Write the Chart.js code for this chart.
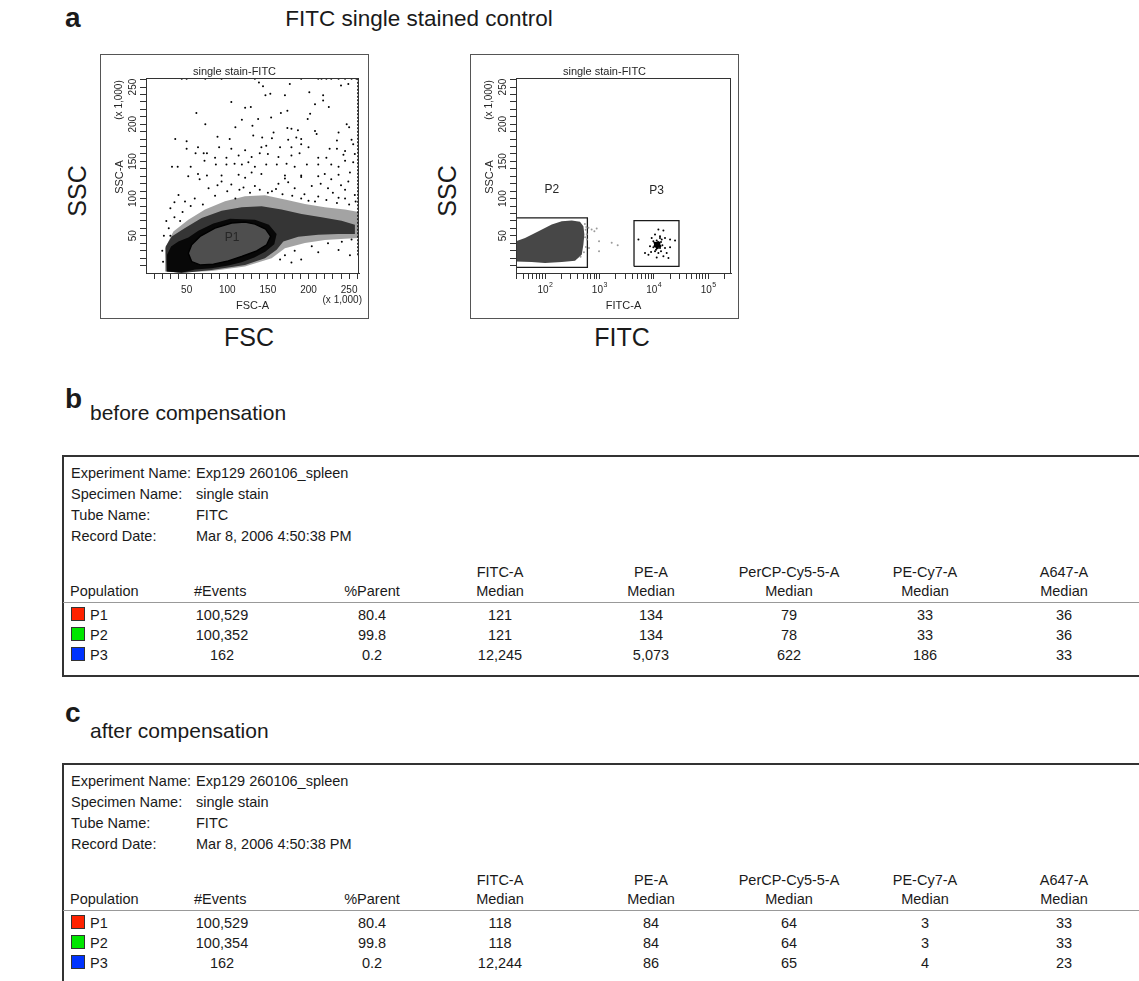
<!DOCTYPE html>
<html>
<head>
<meta charset="utf-8">
<script src="https://cdn.jsdelivr.net/npm/chart.js@4.4.1/dist/chart.umd.min.js"></script>
<style>
  body { margin: 0; width: 1139px; height: 981px; background: #fff; position: relative; overflow: hidden;
         font-family: "Liberation Sans", Arial, sans-serif; color: #1a1a1a; }
  .abs { position: absolute; white-space: nowrap; }
  .box { position: absolute; top: 54px; width: 267px; height: 263px; border: 1px solid #555; }
  .box canvas { display: block; }
  .tbl { position: absolute; left: 62px; width: 1100px; border: 2px solid #333; border-right: none; }
  .sep { position: absolute; left: 63px; width: 1076px; height: 1px; background: #999; }
  .sw { position: absolute; width: 12px; height: 12px; border: 1px solid #333; }
</style>
</head>
<body>
<div class="box" style="left:100px"><canvas id="fscPlot" width="267" height="263"></canvas></div>
<div class="box" style="left:470px"><canvas id="fitcPlot" width="267" height="263"></canvas></div>

<script>
// ---- scatter data (x 1,000 units for FSC/SSC) ----
const fscTicks = [10,20,30,40,50,60,70,80,90,100,110,120,130,140,150,160,170,180,190,200,210,220,230,240,250,260];
const sscTicks = fscTicks;
const fscLabels = [50, 100, 150, 200, 250];
const sscLabels = [50, 100, 150, 200, 250];
const fitcTicks = [30,40,50,60,70,80,90,100,200,300,400,500,600,700,800,900,1000,2000,3000,4000,5000,6000,7000,8000,9000,
                   10000,20000,30000,40000,50000,60000,70000,80000,90000,100000,200000];
const fitcDecades = [100, 1000, 10000, 100000];

// sparse events, FSC-A vs SSC-A
const fscDots = [
  [139,256],[144,251],[177,254],[249,254],[240,252],[201,243],[147,239],[153,241],[171,239],[218,239],
  [105,230],[218,232],[208,227],[122,222],[129,223],[225,223],[62,215],[166,215],[174,218],[202,214],
  [138,207],[118,206],[154,209],[199,207],[73,200],[131,198],[110,196],[174,195],[179,194],[187,192],
  [208,191],[247,200],[250,196],[237,189],[157,189],[36,180],[50,177],[88,183],[103,180],[132,185],
  [143,182],[155,181],[175,179],[185,182],[191,180],[210,187],[235,178],[253,179],[64,169],[50,167],
  [90,169],[105,167],[122,165],[142,169],[148,171],[165,169],[179,169],[191,173],[200,169],[226,167],
  [235,167],[245,164],[255,173],[61,161],[71,161],[75,161],[85,155],[99,155],[114,158],[130,156],
  [140,161],[150,160],[163,156],[179,158],[189,161],[212,155],[222,155],[243,159],[257,160],[32,143],
  [39,143],[55,143],[72,151],[86,146],[99,146],[109,147],[118,146],[126,149],[134,143],[148,146],
  [161,146],[173,147],[183,143],[198,146],[212,146],[228,146],[237,143],[245,151],[255,149],
  [52,130],[64,133],[75,131],[93,131],[114,132],[130,135],[142,133],[171,131],[191,131],[220,133],[237,132],[251,135],
  [66,126],[93,123],[122,128],[171,127],[191,129],[212,130],[228,126],[249,123],[40,105],[30,87],[48,96],
  [77,114],[105,119],[134,117],[163,120],[183,114],[204,117],[224,114],[245,112],[257,105],[237,101],[212,103],[191,100],
  [60,100],[70,92],[85,104],[100,110],[115,112],[128,108],[140,112],[155,110],[168,106],[180,104],[195,106],
  [208,96],[222,98],[235,94],[250,92],[258,96],[45,82],[55,90],[110,100],[150,108],[200,97],[230,108],[245,100],
  [88,118],[120,115],[160,113],[175,122],[215,120],[240,118],[35,95],[42,70],[30,50],
  [25,70],[28,60],[35,75],[22,50],[20,30],[21,15],
  [171,24],[183,30],[204,36],[224,40],[241,42],[253,45],[191,18],[165,18],[179,14],[212,28],[237,31],[251,24]
];
const fscTopEdge = [[44,261],[50,261],[73,261],[93,261],[134,261],[191,261],[212,261],[216,261],[222,261],
                    [228,261],[237,261],[245,261],[253,261],[259,261]];
const fscRightEdge = [[261.3,24],[261.3,262]];

// density regions around the P1 population
const fscMedium = [[23.4,1.9],[23.4,33.4],[33.7,55.9],[52.1,71.7],[72.6,85.2],[97.2,96.4],[121.8,103.2],[146.4,104.5],
  [171,98.7],[195.6,92.8],[220.2,88.3],[244.8,85.2],[262,82],[262,46.9],[244.8,46],[220.2,44.2],[195.6,40.2],
  [171,33.4],[154.6,19.9],[121.8,8.6],[80.8,2.8],[39.8,0.5],[23.4,1.9]];
const fscDense = [[25,1.9],[24.2,35.6],[31.6,49.2],[48,60.4],[68.5,73.9],[93.1,83.8],[117.7,88.3],[142.3,89.7],
  [166.9,85.2],[191.5,79.3],[216.1,74.8],[240.7,70.3],[257.1,64.9],[257.1,52.3],[236.6,52.3],[212,51.4],
  [187.4,48.7],[169,42.4],[160.8,31.2],[146.4,19.9],[121.8,10.9],[80.8,4.1],[48,0.5],[25,1.9]];
const fscCore = [[26.7,1.9],[25.9,24.4],[30.8,35.6],[39.8,42.4],[52.1,47.8],[64.4,56.8],[82.9,66.7],[103.4,73],
  [134.1,71.7],[151.3,64.9],[160.8,52.3],[157.9,38.8],[147.2,28.9],[133.3,20.8],[117.7,14.5],[101.3,10],
  [80.8,6.4],[60.3,4.6],[43.9,0.5],[26.7,1.9]];
const p1Gate = [[52.1,26.7],[56.2,37.9],[66.5,49.2],[84.9,60.4],[105.4,67.2],[121.8,68.5],[134.1,65.8],[147.2,59.1],
  [153.4,49.2],[148.5,37.9],[136.2,29.8],[117.7,22.2],[101.3,16.3],[82.9,11.8],[66.5,10.9],[56.2,15.4],[52.1,26.7]];

// FITC-A vs SSC-A
const p2Blob = [[29.3,42.6],[43,47.2],[76,56.1],[133,65.1],[203,69.6],[310,70.5],[440,68.8],[508,62.9],[529,51.7],
  [508,38.2],[473,24.7],[356,16.6],[203,14.8],[100,13.5],[57,14.8],[29.3,15.6],[29.3,42.6]];
const p2Gate = [[29.3,7.6],[601,7.6],[601,74.2],[29.3,74.2],[29.3,7.6]];
const p3Gate = [[4325,8.9],[29000,8.9],[29000,70.5],[4325,70.5],[4325,8.9]];
const p2Stray = [[628,60.7],[719,58.4],[809,56.1],[891,59.7],[984,42.6],[644,33.7],[984,29.1],[1683,40.5],[2167,37.2],
  [560,58],[545,48],[565,35],[520,28],[450,22],[590,45],[575,62],[540,66],[585,52]];
const p3Dots = [[12140,58.4],[15000,57.0],[10520,51.7],[13000,49.4],[9140,47.2],[16070,47.2],[19880,44.9],[9820,42.6],
  [11300,43.6],[13560,41.8],[12140,39.1],[10520,38.2],[14380,37.2],[11800,35.9],[13000,33.7],[9820,34.5],
  [16070,33.7],[10970,31.4],[13560,29.1],[12140,27.0],[8890,28.3],[17260,27.0],[6890,27.0],[7960,24.7],
  [15000,22.4],[11300,21.0],[5212,44.9],[24550,43.6],[18550,20.2],[10250,40.5],[12670,40.5],[11460,33.7],
  [13960,44.9],[8510,35.9],[19880,34.5],[13000,47.2],[10520,29.1]];
const p3Core = [[11000,38],[11800,37],[12400,39],[11300,36],[10800,40],[12000,41],[11600,34],[12800,36],[11200,39.5],[10600,36.5]];

// ---- table data ----
const infoLabels = ['Experiment Name:', 'Specimen Name:', 'Tube Name:', 'Record Date:'];
const infoValues = ['Exp129 260106_spleen', 'single stain', 'FITC', 'Mar 8, 2006 4:50:38 PM'];
const channelNames = ['FITC-A', 'PE-A', 'PerCP-Cy5-5-A', 'PE-Cy7-A', 'A647-A'];
const populations = ['P1', 'P2', 'P3'];
const populationColors = ['#ff2200', '#00e600', '#0033ff'];
const eventsBefore = ['100,529', '100,352', '162'];
const parentBefore = ['80.4', '99.8', '0.2'];
const mediansBefore = [['121', '134', '79', '33', '36'], ['121', '134', '78', '33', '36'], ['12,245', '5,073', '622', '186', '33']];
const eventsAfter = ['100,529', '100,354', '162'];
const parentAfter = ['80.4', '99.8', '0.2'];
const mediansAfter = [['118', '84', '64', '3', '33'], ['118', '84', '64', '3', '33'], ['12,244', '86', '65', '4', '23']];

const FONT = '"Liberation Sans", Arial, sans-serif';
const pts = arr => arr.map(([x, y]) => ({x, y}));

// axis labels, frame and gate names drawn through the chart scales
const decor = {
  id: 'decor',
  afterDraw(chart, args, o) {
    const {ctx, chartArea: a, scales: {x, y}} = chart;
    ctx.save();
    ctx.strokeStyle = '#333';
    ctx.lineWidth = 1;
    ctx.strokeRect(a.left + 0.5, a.top + 0.5, a.right - a.left - 1, a.bottom - a.top);
    ctx.fillStyle = '#262626';
    ctx.textBaseline = 'middle';
    ctx.textAlign = 'center';
    ctx.font = '11px ' + FONT;
    ctx.fillText('single stain-FITC', chart.width / 2, 17);
    if (o.log) {
      o.xLabels.forEach(v => {
        const px = x.getPixelForValue(v);
        ctx.font = '10px ' + FONT;
        ctx.fillText('10', px - 2, a.bottom + 17);
        ctx.font = '7px ' + FONT;
        ctx.fillText(String(Math.round(Math.log10(v))), px + 6, a.bottom + 12);
      });
    } else {
      ctx.font = '10px ' + FONT;
      o.xLabels.forEach(v => ctx.fillText(String(v), x.getPixelForValue(v), a.bottom + 17));
    }
    ctx.font = '11px ' + FONT;
    ctx.fillText(o.xTitle, (a.left + a.right) / 2, a.bottom + 33);
    if (o.xUnit) {
      ctx.textAlign = 'right';
      ctx.font = '10px ' + FONT;
      ctx.fillText(o.xUnit, a.right + 3, a.bottom + 27);
    }
    const rot = (t, px, py, size) => {
      ctx.save();
      ctx.translate(px, py);
      ctx.rotate(-Math.PI / 2);
      ctx.textAlign = 'center';
      ctx.font = size + 'px ' + FONT;
      ctx.fillText(t, 0, 0);
      ctx.restore();
    };
    o.yLabels.forEach(v => rot(String(v), a.left - 13, y.getPixelForValue(v), 10));
    rot('SSC-A', a.left - 26, a.top + 99, 11);
    rot('(x 1,000)', a.left - 27, a.top + 22, 10);
    ctx.textAlign = 'center';
    ctx.font = '12px ' + FONT;
    o.gates.forEach(([t, vx, vy]) => ctx.fillText(t, x.getPixelForValue(vx), y.getPixelForValue(vy)));
    ctx.restore();
  }
};

function dots(data, color, r, order) {
  return {type: 'scatter', data: pts(data), backgroundColor: color, borderWidth: 0, pointRadius: r, order};
}
function shape(data, fillColor, lineColor, lineWidth, order, dash) {
  return {type: 'line', data: pts(data), fill: fillColor ? 'shape' : false, backgroundColor: fillColor || 'rgba(0,0,0,0)',
          borderColor: lineColor || 'rgba(0,0,0,0)', borderWidth: lineWidth || 1, borderDash: dash || [],
          pointRadius: 0, tension: 0, order};
}

function sscAxis() {
  return {
    type: 'linear', min: 0, max: 262.144,
    afterBuildTicks: s => { s.ticks = sscTicks.map(v => ({value: v})); },
    afterFit: s => { s.width = 45; },
    ticks: {display: false},
    grid: {drawOnChartArea: false, tickLength: 6, color: '#333'},
    border: {display: true, color: '#333'}
  };
}

function makePlot(id, xAxis, datasets, decorOpts, padRight) {
  return new Chart(document.getElementById(id), {
    type: 'scatter',
    data: {datasets},
    options: {
      responsive: false, animation: false, events: [],
      layout: {padding: {left: 0, right: padRight, top: 23, bottom: 0}},
      plugins: {legend: {display: false}, tooltip: {enabled: false}, decor: decorOpts},
      scales: {x: xAxis, y: sscAxis()}
    },
    plugins: [decor]
  });
}

makePlot('fscPlot', {
  type: 'linear', min: 0, max: 262.144,
  afterBuildTicks: s => { s.ticks = fscTicks.map(v => ({value: v})); },
  afterFit: s => { s.height = 45; },
  ticks: {display: false},
  grid: {drawOnChartArea: false, tickLength: 6, color: '#333'},
  border: {display: true, color: '#333'}
}, [
  dots(fscDots, '#000', 1, 1),
  dots(fscTopEdge, '#000', 1, 1),
  shape(fscRightEdge, null, '#000', 2.2, 2, [2, 1.5]),
  shape(p1Gate, '#4e4e4e', '#000', 1.4, 6),
  shape(fscCore, '#080808', null, 1, 7),
  shape(fscDense, 'rgba(0,0,0,0.68)', null, 1, 8),
  shape(fscMedium, 'rgba(0,0,0,0.36)', null, 1, 9)
], {log: false, xLabels: fscLabels, yLabels: sscLabels, xTitle: 'FSC-A', xUnit: '(x 1,000)', gates: [['P1', 106, 47]]}, 9);

makePlot('fitcPlot', {
  type: 'logarithmic', min: 29.3, max: 262144,
  afterBuildTicks: s => { s.ticks = fitcTicks.map(v => ({value: v})); },
  afterFit: s => { s.height = 45; },
  ticks: {display: false},
  grid: {drawOnChartArea: false, tickLength: 6, color: '#333'},
  border: {display: true, color: '#333'}
}, [
  dots(p3Core, '#000', 1.6, 1),
  dots(p3Dots, '#000', 1, 1),
  dots(p2Stray, '#9a9a9a', 1, 2),
  shape(p2Gate, null, '#1a1a1a', 1.3, 3),
  shape(p3Gate, null, '#1a1a1a', 1.3, 3),
  shape(p2Blob, '#474747', null, 1, 5)
], {log: true, xLabels: fitcDecades, yLabels: sscLabels, xTitle: 'FITC-A', xUnit: null,
    gates: [['P2', 133, 112], ['P3', 11300, 110]]}, 7);

// ---- page text ----
function put(text, x, base, size, align, bold) {
  const d = document.createElement('div');
  d.className = 'abs';
  d.textContent = text;
  d.style.font = (bold ? 'bold ' : '') + size + 'px ' + FONT;
  d.style.lineHeight = size + 'px';
  d.style.top = (base - 0.8465 * size) + 'px';
  d.style.left = x + 'px';
  if (align === 'center') d.style.transform = 'translateX(-50%)';
  if (align === 'right') d.style.transform = 'translateX(-100%)';
  document.body.appendChild(d);
  return d;
}
function putRot(text, cx, cy, size) {
  const d = document.createElement('div');
  d.className = 'abs';
  d.textContent = text;
  d.style.font = size + 'px ' + FONT;
  d.style.lineHeight = size + 'px';
  d.style.left = cx + 'px';
  d.style.top = cy + 'px';
  d.style.transform = 'translate(-50%,-50%) rotate(-90deg)';
  document.body.appendChild(d);
}

put('a', 65, 28, 28, null, true);
put('FITC single stained control', 419, 27, 22.5, 'center');
putRot('SSC', 77, 191, 25);
putRot('SSC', 447, 191, 25);
put('FSC', 249, 346, 25, 'center');
put('FITC', 622, 346, 25, 'center');
put('b', 65, 409, 28, null, true);
put('before compensation', 90, 420, 21);
put('c', 65, 723, 28, null, true);
put('after compensation', 90, 738, 21);

const infoBase = [23, 44, 65, 86];
const rowBase = [165, 185, 205];
const colX = [500, 651, 789, 925, 1064];
const TS = 14.5;

function drawTable(top, events, parents, medians) {
  const box = document.createElement('div');
  box.className = 'tbl';
  box.style.top = top + 'px';
  box.style.height = '218px';
  document.body.appendChild(box);
  infoLabels.forEach((t, i) => {
    put(t, 71, top + infoBase[i], TS);
    put(infoValues[i], 196, top + infoBase[i], TS);
  });
  put('Population', 70, top + 141, TS);
  put('#Events', 194, top + 141, TS);
  put('%Parent', 372, top + 141, TS, 'center');
  channelNames.forEach((c, j) => {
    put(c, colX[j], top + 122, TS, 'center');
    put('Median', colX[j], top + 141, TS, 'center');
  });
  const sep = document.createElement('div');
  sep.className = 'sep';
  sep.style.top = (top + 147) + 'px';
  document.body.appendChild(sep);
  populations.forEach((p, i) => {
    const b = top + rowBase[i];
    const sw = document.createElement('div');
    sw.className = 'sw';
    sw.style.left = '71px';
    sw.style.top = (b - 13) + 'px';
    sw.style.background = populationColors[i];
    document.body.appendChild(sw);
    put(p, 90, b, TS);
    put(events[i], 222, b, TS, 'center');
    put(parents[i], 372, b, TS, 'center');
    medians[i].forEach((m, j) => put(m, colX[j], b, TS, 'center'));
  });
}
drawTable(455, eventsBefore, parentBefore, mediansBefore);
drawTable(763, eventsAfter, parentAfter, mediansAfter);
</script>
</body>
</html>
